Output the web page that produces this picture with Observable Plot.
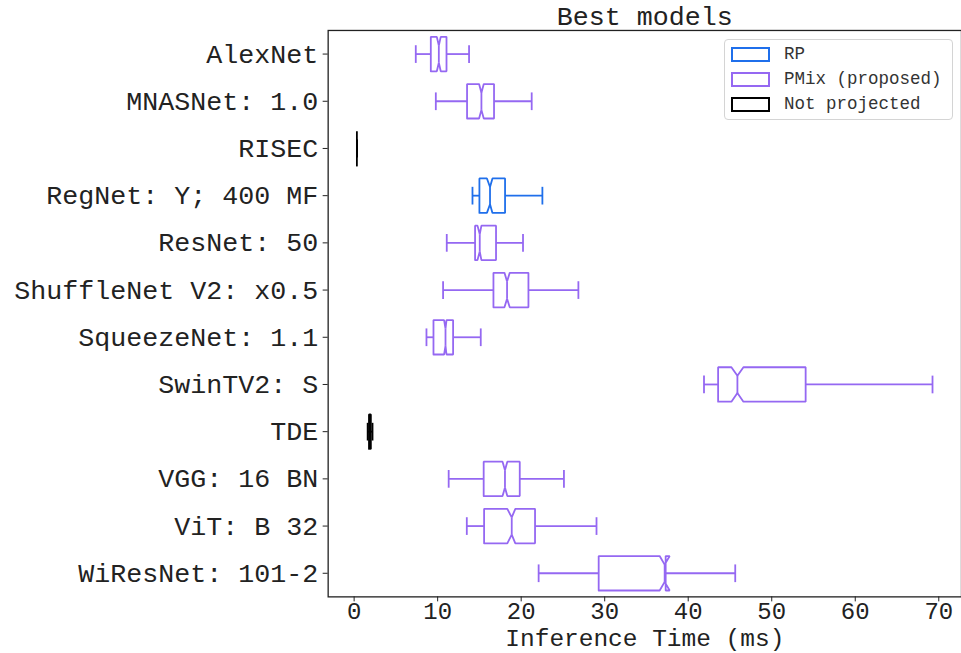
<!DOCTYPE html>
<html>
<head>
<meta charset="utf-8">
<script src="https://cdn.jsdelivr.net/npm/d3@7"></script>
<script src="https://cdn.jsdelivr.net/npm/@observablehq/plot@0.6"></script>
<style>
  html, body { margin: 0; padding: 0; background: #fff; overflow: hidden; }
  #wrap { position: relative; width: 961px; height: 653px; overflow: hidden; font-family: "Liberation Mono", monospace; }
  .legend { position: absolute; left: 724px; top: 39px; width: 229px; height: 81px; box-sizing: border-box;
            border: 1px solid #d4d4d4; border-radius: 4px; background: rgba(255,255,255,0.85); color: #333; font-size: 17.5px; }
  .legend .row { position: absolute; left: 0; height: 20px; display: flex; align-items: center; }
  .legend .sw { width: 35px; height: 11px; border: 2px solid; margin-left: 6px; margin-right: 14px; background: #fff; }
</style>
</head>
<body>
<div id="wrap"></div>
<script>
// Best models: inference-time distributions per architecture (notched box plots)
const models = ["AlexNet", "MNASNet: 1.0", "RISEC", "RegNet: Y; 400 MF", "ResNet: 50",
  "ShuffleNet V2: x0.5", "SqueezeNet: 1.1", "SwinTV2: S", "TDE", "VGG: 16 BN", "ViT: B 32", "WiResNet: 101-2"];
const method = ["PMix", "PMix", "None", "RP", "PMix", "PMix", "PMix", "PMix", "None", "PMix", "PMix", "PMix"];
const whiskerLow  = [7.38,  9.78, 0.33, 14.17, 11.09, 10.65,  8.66, 41.89, 1.62, 11.32, 13.49, 22.09];
const q1          = [9.18, 13.52, 0.33, 15.00, 14.48, 16.68,  9.50, 43.58, 1.78, 15.51, 15.56, 29.28];
const notchLow    = [9.90, 14.96, 0.33, 15.90, 14.77, 18.00, 10.77, 45.17, 1.86, 17.77, 18.34, 36.58];
const median      = [10.14, 15.24, 0.33, 16.27, 15.04, 18.31, 10.94, 45.89, 1.90, 18.06, 18.87, 37.18];
const notchHigh   = [10.37, 15.52, 0.33, 16.56, 15.24, 18.63, 11.06, 46.61, 1.94, 18.34, 19.30, 37.78];
const q3          = [11.06, 16.75, 0.33, 18.07, 16.99, 20.87, 11.85, 54.06, 2.00, 19.83, 21.66, 37.30];
const whiskerHigh = [13.76, 21.26, 0.33, 22.54, 20.22, 26.85, 15.16, 69.25, 2.20, 25.12, 29.02, 45.63];
const xTicks = [0, 10, 20, 30, 40, 50, 60, 70];

const methodNames = ["RP", "PMix", "None"];
const methodLabels = ["RP", "PMix (proposed)", "Not projected"];
const methodColors = ["#1f6feb", "#9568f2", "#000000"];

// box geometry in category units (box half-height, notch waist, whisker cap)
const boxHalf = 0.365, waistHalf = 0.1825, capHalf = 0.1875;

const rows = models.map((m, i) => ({
  model: m, pos: i, method: method[i],
  wl: whiskerLow[i], q1: q1[i], nl: notchLow[i], med: median[i], nh: notchHigh[i], q3: q3[i], wh: whiskerHigh[i]
}));

// closed notched-box outline for each model
const outline = rows.flatMap(r => [
  [r.q1, r.pos + boxHalf], [r.nl, r.pos + boxHalf], [r.med, r.pos + waistHalf], [r.nh, r.pos + boxHalf],
  [r.q3, r.pos + boxHalf], [r.q3, r.pos - boxHalf], [r.nh, r.pos - boxHalf], [r.med, r.pos - waistHalf],
  [r.nl, r.pos - boxHalf], [r.q1, r.pos - boxHalf], [r.q1, r.pos + boxHalf]
].map(([x, y]) => ({model: r.model, method: r.method, x, y})));

const sw = 1.8;
const chart = Plot.plot({
  width: 962,
  height: 653,
  marginLeft: 328,
  marginRight: 0,
  marginTop: 30,
  marginBottom: 56,
  style: {fontFamily: "Liberation Mono, monospace", color: "#222", background: "#fff"},
  x: {domain: [-3.11, 72.72]},
  y: {domain: [-0.5, 11.5], reverse: true},
  color: {domain: methodNames, range: methodColors},
  marks: [
    // whiskers
    Plot.link(rows, {x1: "wl", x2: "q1", y1: "pos", y2: "pos", stroke: "method", strokeWidth: sw}),
    Plot.link(rows, {x1: "q3", x2: "wh", y1: "pos", y2: "pos", stroke: "method", strokeWidth: sw}),
    // caps
    Plot.link(rows, {x1: "wl", x2: "wl", y1: d => d.pos - capHalf, y2: d => d.pos + capHalf, stroke: "method", strokeWidth: sw}),
    Plot.link(rows, {x1: "wh", x2: "wh", y1: d => d.pos - capHalf, y2: d => d.pos + capHalf, stroke: "method", strokeWidth: sw}),
    // boxes
    Plot.line(outline, {x: "x", y: "y", z: "model", stroke: "method", strokeWidth: sw, strokeLinejoin: "miter"}),
    // medians
    Plot.link(rows, {x1: "med", x2: "med", y1: d => d.pos - waistHalf, y2: d => d.pos + waistHalf, stroke: "method", strokeWidth: sw}),
    Plot.frame({stroke: "#222", strokeWidth: 1.3}),
    Plot.axisY({ticks: d3.range(models.length), tickFormat: i => models[i], tickSize: 5, tickPadding: 5,
      fontSize: 26.7, label: null, stroke: "#222"}),
    Plot.axisX({ticks: xTicks, tickFormat: d3.format("d"), tickSize: 5, tickPadding: 0,
      fontSize: 24, label: null, stroke: "#222"}),
    Plot.text(["Best models"], {frameAnchor: "top", dy: -14, lineAnchor: "middle", fontSize: 26.7, fill: "#222"}),
    Plot.text(["Inference Time (ms)"], {frameAnchor: "bottom", dy: 41, lineAnchor: "middle", fontSize: 24.5, fill: "#222"})
  ]
});

const wrap = document.getElementById("wrap");
wrap.appendChild(chart);

// legend drawn over the upper-right corner of the plot area
const legend = document.createElement("div");
legend.className = "legend";
methodNames.forEach((m, i) => {
  const row = document.createElement("div");
  row.className = "row";
  row.style.top = (4 + i * 25.2) + "px";
  const s = document.createElement("span");
  s.className = "sw";
  s.style.borderColor = methodColors[i];
  const t = document.createElement("span");
  t.textContent = methodLabels[i];
  row.appendChild(s);
  row.appendChild(t);
  legend.appendChild(row);
});
wrap.appendChild(legend);
</script>
</body>
</html>
